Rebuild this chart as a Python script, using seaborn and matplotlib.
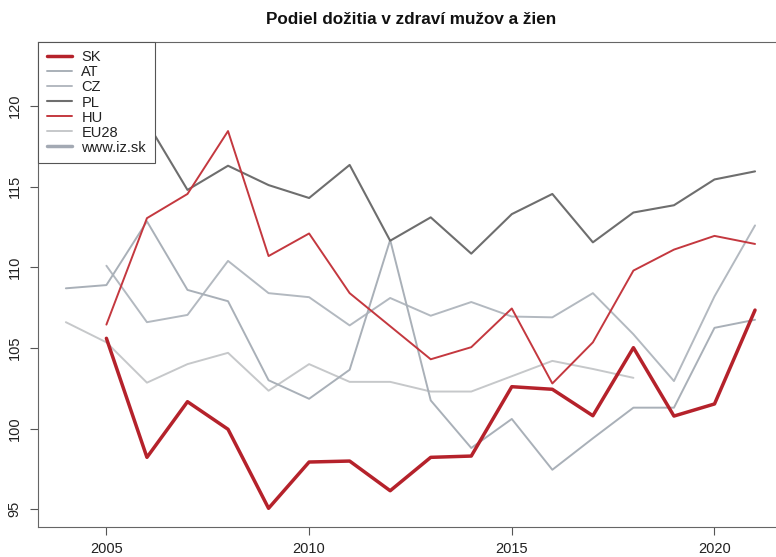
import numpy as np
import pandas as pd
import matplotlib
matplotlib.use("Agg")
import matplotlib.pyplot as plt
import seaborn as sns
from matplotlib.lines import Line2D

# ---- data ----
years_full = list(range(2004, 2022))
years_05 = list(range(2005, 2022))
years_eu = list(range(2004, 2019))

sk = [105.60, 98.22, 101.67, 99.96, 95.06, 97.93, 97.99, 96.15, 98.22, 98.30,
      102.60, 102.44, 100.80, 105.02, 100.78, 101.53, 107.35]
at = [108.70, 108.90, 112.85, 108.60, 107.90, 103.00, 101.85, 103.65, 111.70,
      101.75, 98.80, 100.60, 97.45, 99.40, 101.30, 101.30, 106.25, 106.75]
cz = [110.10, 106.60, 107.05, 110.40, 108.40, 108.15, 106.40, 108.10, 107.00,
      107.85, 106.95, 106.90, 108.40, 105.85, 102.95, 108.20, 112.60]
pl = [122.90, 119.00, 114.80, 116.30, 115.10, 114.30, 116.35, 111.65, 113.10,
      110.85, 113.30, 114.55, 111.55, 113.40, 113.85, 115.45, 115.95]
hu = [106.45, 113.05, 114.55, 118.45, 110.70, 112.10, 108.40, 106.35, 104.30,
      105.05, 107.45, 102.80, 105.35, 109.80, 111.10, 111.95, 111.45]
eu28 = [106.60, 105.35, 102.85, 104.00, 104.70, 102.35, 104.00, 102.90, 102.90,
        102.30, 102.30, 103.25, 104.20, 103.70, 103.15]

title = "Podiel dožitia v zdraví mužov a žien"
xticks = [2005, 2010, 2015, 2020]
yticks = [95, 100, 105, 110, 115, 120]

sns.set_style("white")
plt.rcParams['font.family'] = ['Liberation Sans', 'DejaVu Sans']

fig = plt.figure(figsize=(7.76, 5.57), dpi=100)
ax = fig.add_axes([38.3 / 776, (557 - 526.7) / 557, (782.6 - 38.3) / 776, (526.7 - 41.7) / 557])

c_sk = "#b5222b"
c_hu = "#c4383f"
c_pl = "#6e6e6e"
c_at = "#a9b0b8"
c_cz = "#b3b9c0"
c_eu = "#c6c8ca"
c_www = "#a3a9b3"

series = [
    ("EU28", years_eu, eu28, c_eu, 1.4),
    ("CZ", years_05, cz, c_cz, 1.4),
    ("AT", years_full, at, c_at, 1.4),
    ("PL", years_05, pl, c_pl, 1.5),
    ("HU", years_05, hu, c_hu, 1.4),
    ("SK", years_05, sk, c_sk, 2.5),
]
for name, xs, ys, col, lw in series:
    df = pd.DataFrame({"rok": xs, "hodnota": ys})
    sns.lineplot(data=df, x="rok", y="hodnota", ax=ax, color=col, linewidth=lw,
                 legend=False)

ax.set_xlim(2003.32, 2021.68)
ax.set_ylim(93.92, 123.99)
ax.set_xticks(xticks)
ax.set_yticks(yticks)
ax.set_xticklabels([str(v) for v in xticks])
ax.set_yticklabels([str(v) for v in yticks], rotation=90, va="center")
ax.set_xlabel("")
ax.set_ylabel("")
ax.tick_params(axis="both", direction="out", length=6, width=0.8, color="#555555",
               labelsize=10.5, labelcolor="#222222", bottom=True, left=True)
ax.tick_params(axis="x", pad=5)
ax.tick_params(axis="y", pad=6)
for s in ax.spines.values():
    s.set_color("#666666")
    s.set_linewidth(0.8)
    s.set_visible(True)

fig.text(411 / 776, 1 - 24 / 557, title, ha="center", va="baseline",
         fontsize=12.3, fontweight="bold", color="#111111")

handles = [
    Line2D([], [], color=c_sk, lw=2.5),
    Line2D([], [], color=c_at, lw=1.4),
    Line2D([], [], color=c_cz, lw=1.4),
    Line2D([], [], color=c_pl, lw=1.5),
    Line2D([], [], color=c_hu, lw=1.4),
    Line2D([], [], color=c_eu, lw=1.4),
    Line2D([], [], color=c_www, lw=2.5),
]
labels = ["SK", "AT", "CZ", "PL", "HU", "EU28", "www.iz.sk"]
leg = ax.legend(handles, labels, loc="upper left", bbox_to_anchor=(0, 1),
                borderaxespad=0, fancybox=False, framealpha=1, edgecolor="#555555",
                fontsize=10.5, handlelength=1.71, handletextpad=0.65,
                labelspacing=0.07, borderpad=0.6)
leg.get_frame().set_linewidth(0.8)
for t in leg.get_texts():
    t.set_color("#222222")

fig.savefig("out.png", dpi=100)
